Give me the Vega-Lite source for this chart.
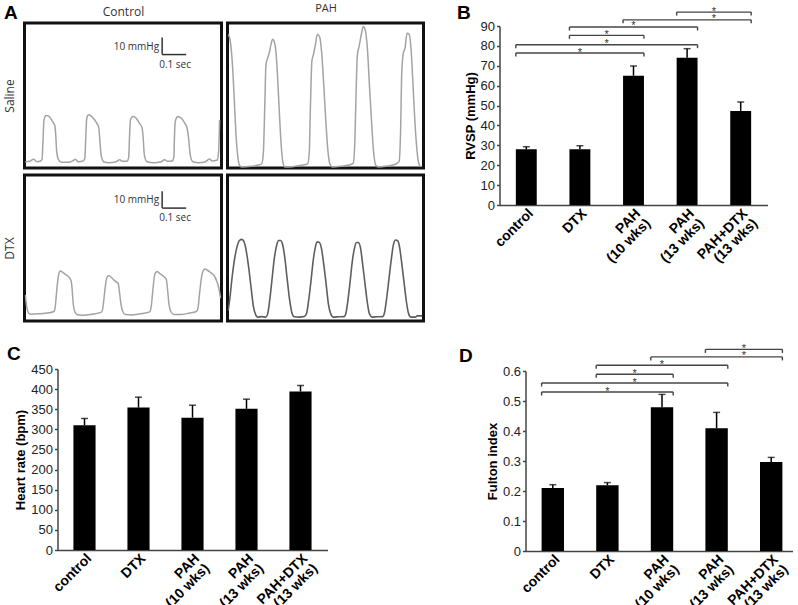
{
 "$schema": "https://vega.github.io/schema/vega-lite/v6.json",
 "background": "white",
 "padding": {"left": 1.5, "top": 1, "right": 2, "bottom": 0},
 "config": {
  "view": {"stroke": null},
  "axis": {"grid": false, "domainColor": "#444", "domainWidth": 1.5, "tickColor": "#444", "tickWidth": 1.5, "tickSize": 3, "labelColor": "#222", "labelFont": "Liberation Sans", "labelFontSize": 13, "labelPadding": 2, "titleFont": "Liberation Sans", "titleFontSize": 13, "titleFontWeight": "bold", "titleColor": "#000", "labelOverlap": false},
  "axisY": {"labelOverlap": false},
  "title": {"font": "Liberation Sans", "fontSize": 19, "fontWeight": "bold", "color": "#000", "anchor": "start", "frame": "group"}
 },
 "datasets": {
  "saline_control": [{"t":0.003,"p":3.7},{"t":0.02,"p":3.9},{"t":0.038,"p":5.1},{"t":0.052,"p":3.7},{"t":0.067,"p":4.1},{"t":0.073,"p":5.1},{"t":0.077,"p":15.5},{"t":0.081,"p":28.2},{"t":0.09,"p":30.8},{"t":0.101,"p":30.4},{"t":0.115,"p":27.6},{"t":0.126,"p":24.9},{"t":0.13,"p":19.4},{"t":0.134,"p":9.6},{"t":0.142,"p":4.7},{"t":0.153,"p":3.3},{"t":0.184,"p":3.3},{"t":0.202,"p":4.3},{"t":0.212,"p":5.1},{"t":0.223,"p":3.7},{"t":0.242,"p":3.9},{"t":0.251,"p":5.7},{"t":0.255,"p":17.5},{"t":0.259,"p":29.2},{"t":0.267,"p":31.2},{"t":0.281,"p":30.0},{"t":0.298,"p":26.9},{"t":0.309,"p":23.7},{"t":0.313,"p":17.5},{"t":0.319,"p":7.6},{"t":0.33,"p":3.7},{"t":0.351,"p":3.1},{"t":0.378,"p":3.5},{"t":0.397,"p":4.9},{"t":0.406,"p":3.9},{"t":0.427,"p":3.9},{"t":0.434,"p":6.7},{"t":0.437,"p":17.5},{"t":0.441,"p":28.2},{"t":0.451,"p":30.2},{"t":0.465,"p":29.2},{"t":0.478,"p":26.3},{"t":0.49,"p":23.3},{"t":0.494,"p":17.5},{"t":0.499,"p":7.6},{"t":0.51,"p":3.7},{"t":0.538,"p":3.1},{"t":0.566,"p":3.5},{"t":0.584,"p":4.9},{"t":0.594,"p":3.9},{"t":0.615,"p":4.1},{"t":0.622,"p":6.7},{"t":0.624,"p":17.5},{"t":0.628,"p":27.6},{"t":0.638,"p":30.2},{"t":0.653,"p":29.2},{"t":0.667,"p":26.3},{"t":0.677,"p":23.3},{"t":0.683,"p":17.5},{"t":0.69,"p":7.6},{"t":0.701,"p":3.7},{"t":0.726,"p":3.1},{"t":0.753,"p":3.7},{"t":0.77,"p":5.3},{"t":0.781,"p":4.1},{"t":0.802,"p":4.7},{"t":0.808,"p":9.6},{"t":0.812,"p":28.2}],
  "saline_pah": [{"t":0.004,"p":78.4},{"t":0.0125,"p":73.5},{"t":0.022,"p":57.8},{"t":0.029,"p":38.2},{"t":0.036,"p":18.6},{"t":0.043,"p":6.9},{"t":0.05,"p":1.6},{"t":0.06,"p":0.6},{"t":0.099,"p":1.0},{"t":0.126,"p":1.6},{"t":0.143,"p":2.5},{"t":0.15,"p":8.8},{"t":0.156,"p":36.3},{"t":0.161,"p":60.8},{"t":0.167,"p":64.1},{"t":0.175,"p":67.6},{"t":0.182,"p":72.5},{"t":0.189,"p":75.5},{"t":0.196,"p":73.9},{"t":0.203,"p":67.6},{"t":0.21,"p":52.0},{"t":0.217,"p":32.4},{"t":0.224,"p":14.7},{"t":0.231,"p":3.9},{"t":0.24,"p":0.6},{"t":0.272,"p":0.8},{"t":0.31,"p":1.6},{"t":0.335,"p":2.4},{"t":0.342,"p":8.8},{"t":0.347,"p":36.3},{"t":0.353,"p":62.7},{"t":0.36,"p":66.7},{"t":0.368,"p":72.5},{"t":0.376,"p":78.4},{"t":0.385,"p":77.1},{"t":0.394,"p":67.6},{"t":0.403,"p":48.0},{"t":0.411,"p":28.4},{"t":0.419,"p":11.8},{"t":0.428,"p":2.5},{"t":0.439,"p":0.6},{"t":0.474,"p":1.0},{"t":0.508,"p":1.8},{"t":0.526,"p":2.7},{"t":0.532,"p":12.7},{"t":0.538,"p":44.1},{"t":0.543,"p":65.7},{"t":0.551,"p":71.6},{"t":0.56,"p":78.4},{"t":0.568,"p":82.9},{"t":0.576,"p":81.0},{"t":0.586,"p":68.6},{"t":0.594,"p":48.0},{"t":0.603,"p":26.5},{"t":0.611,"p":9.8},{"t":0.621,"p":1.4},{"t":0.633,"p":0.6},{"t":0.668,"p":1.2},{"t":0.703,"p":2.2},{"t":0.718,"p":3.9},{"t":0.724,"p":20.6},{"t":0.729,"p":55.9},{"t":0.735,"p":66.7},{"t":0.743,"p":70.6},{"t":0.751,"p":79.0},{"t":0.76,"p":78.4},{"t":0.768,"p":69.6},{"t":0.775,"p":52.0},{"t":0.782,"p":32.4},{"t":0.789,"p":16.7},{"t":0.797,"p":4.9},{"t":0.804,"p":1.4},{"t":0.81,"p":0.8}],
  "dtx_control": [{"t":0.0035,"p":15.4},{"t":0.009,"p":8.5},{"t":0.015,"p":5.2},{"t":0.024,"p":4.0},{"t":0.059,"p":4.2},{"t":0.101,"p":4.8},{"t":0.122,"p":5.6},{"t":0.128,"p":8.5},{"t":0.135,"p":19.3},{"t":0.142,"p":27.2},{"t":0.149,"p":29.5},{"t":0.159,"p":28.7},{"t":0.17,"p":27.5},{"t":0.184,"p":26.0},{"t":0.194,"p":23.6},{"t":0.198,"p":19.3},{"t":0.202,"p":11.5},{"t":0.209,"p":5.6},{"t":0.219,"p":3.8},{"t":0.24,"p":3.4},{"t":0.281,"p":4.0},{"t":0.32,"p":5.2},{"t":0.327,"p":8.5},{"t":0.334,"p":17.4},{"t":0.342,"p":25.2},{"t":0.351,"p":26.8},{"t":0.362,"p":25.6},{"t":0.376,"p":23.6},{"t":0.39,"p":22.1},{"t":0.395,"p":17.4},{"t":0.401,"p":10.5},{"t":0.409,"p":5.6},{"t":0.42,"p":3.8},{"t":0.448,"p":3.6},{"t":0.49,"p":4.4},{"t":0.521,"p":5.4},{"t":0.528,"p":9.1},{"t":0.535,"p":19.3},{"t":0.542,"p":27.2},{"t":0.552,"p":29.1},{"t":0.562,"p":28.1},{"t":0.576,"p":26.6},{"t":0.59,"p":24.6},{"t":0.595,"p":19.3},{"t":0.601,"p":10.5},{"t":0.609,"p":5.6},{"t":0.622,"p":3.8},{"t":0.649,"p":3.8},{"t":0.684,"p":4.6},{"t":0.715,"p":5.6},{"t":0.722,"p":7.5},{"t":0.728,"p":15.4},{"t":0.74,"p":28.1},{"t":0.751,"p":30.7},{"t":0.762,"p":29.9},{"t":0.775,"p":28.5},{"t":0.789,"p":26.8},{"t":0.8,"p":23.6},{"t":0.809,"p":19.3},{"t":0.816,"p":13.4}],
  "dtx_pah": [{"t":0.003,"p":6.2},{"t":0.01,"p":13.4},{"t":0.018,"p":24.2},{"t":0.029,"p":36.0},{"t":0.04,"p":43.8},{"t":0.05,"p":47.4},{"t":0.06,"p":48.1},{"t":0.069,"p":46.8},{"t":0.079,"p":40.9},{"t":0.089,"p":31.1},{"t":0.099,"p":19.3},{"t":0.108,"p":8.9},{"t":0.118,"p":3.6},{"t":0.126,"p":2.3},{"t":0.143,"p":2.6},{"t":0.16,"p":2.3},{"t":0.168,"p":4.2},{"t":0.176,"p":11.5},{"t":0.186,"p":24.2},{"t":0.196,"p":37.0},{"t":0.206,"p":44.8},{"t":0.214,"p":47.4},{"t":0.222,"p":47.4},{"t":0.231,"p":44.8},{"t":0.24,"p":37.0},{"t":0.25,"p":24.2},{"t":0.26,"p":12.4},{"t":0.269,"p":5.0},{"t":0.279,"p":2.5},{"t":0.3,"p":2.3},{"t":0.321,"p":2.6},{"t":0.331,"p":4.6},{"t":0.339,"p":11.5},{"t":0.349,"p":23.2},{"t":0.358,"p":35.0},{"t":0.368,"p":43.8},{"t":0.376,"p":46.6},{"t":0.385,"p":46.2},{"t":0.393,"p":42.8},{"t":0.403,"p":33.0},{"t":0.413,"p":21.3},{"t":0.422,"p":10.1},{"t":0.432,"p":4.2},{"t":0.443,"p":2.3},{"t":0.467,"p":2.5},{"t":0.488,"p":2.6},{"t":0.496,"p":5.0},{"t":0.504,"p":12.4},{"t":0.513,"p":23.2},{"t":0.522,"p":35.0},{"t":0.532,"p":43.4},{"t":0.54,"p":46.2},{"t":0.547,"p":46.2},{"t":0.556,"p":43.4},{"t":0.565,"p":34.0},{"t":0.575,"p":22.3},{"t":0.585,"p":10.9},{"t":0.594,"p":4.2},{"t":0.606,"p":2.3},{"t":0.626,"p":2.5},{"t":0.649,"p":2.6},{"t":0.657,"p":5.0},{"t":0.665,"p":12.4},{"t":0.675,"p":24.2},{"t":0.685,"p":36.0},{"t":0.694,"p":44.8},{"t":0.703,"p":47.7},{"t":0.711,"p":47.4},{"t":0.719,"p":44.2},{"t":0.729,"p":34.0},{"t":0.739,"p":22.3},{"t":0.749,"p":10.9},{"t":0.758,"p":4.2},{"t":0.768,"p":2.3},{"t":0.786,"p":2.3},{"t":0.793,"p":3.0},{"t":0.814,"p":3.0}],
  "scalebar": [{"t0":0.573,"t1":0.673,"p0":66.5,"p1":76.5,"vlabel":"10 mmHg","hlabel":"0.1 sec"}],
  "rvsp": [{"group":"control","mean":28,"hi":29.3},{"group":"DTX","mean":28,"hi":29.8},{"group":"PAH (10 wks)","mean":65,"hi":69.9},{"group":"PAH (13 wks)","mean":74,"hi":78.6},{"group":"PAH+DTX (13 wks)","mean":47.3,"hi":51.8}],
  "hr": [{"group":"control","mean":310,"hi":327},{"group":"DTX","mean":354,"hi":380},{"group":"PAH (10 wks)","mean":329,"hi":360},{"group":"PAH (13 wks)","mean":351,"hi":375},{"group":"PAH+DTX (13 wks)","mean":394,"hi":409}],
  "fulton": [{"group":"control","mean":0.21,"hi":0.221},{"group":"DTX","mean":0.219,"hi":0.228},{"group":"PAH (10 wks)","mean":0.479,"hi":0.522},{"group":"PAH (13 wks)","mean":0.409,"hi":0.462},{"group":"PAH+DTX (13 wks)","mean":0.297,"hi":0.312}],
  "sig_rvsp": [{"from":"PAH (13 wks)","to":"PAH+DTX (13 wks)","level":97,"star":"PAH (13 wks)","pos":"gap","sig":"*"},{"from":"PAH (10 wks)","to":"PAH+DTX (13 wks)","level":93.1,"star":"PAH (13 wks)","pos":"gap","sig":"*"},{"from":"DTX","to":"PAH (13 wks)","level":89.5,"star":"PAH (10 wks)","pos":"center","sig":"*"},{"from":"DTX","to":"PAH (10 wks)","level":85.3,"star":"DTX","pos":"gap","sig":"*"},{"from":"control","to":"PAH (13 wks)","level":80.6,"star":"DTX","pos":"gap","sig":"*"},{"from":"control","to":"PAH (10 wks)","level":76.4,"star":"DTX","pos":"center","sig":"*"}],
  "sig_fulton": [{"from":"PAH (13 wks)","to":"PAH+DTX (13 wks)","level":0.672,"star":"PAH (13 wks)","pos":"gap","sig":"*"},{"from":"PAH (10 wks)","to":"PAH+DTX (13 wks)","level":0.647,"star":"PAH (13 wks)","pos":"gap","sig":"*"},{"from":"DTX","to":"PAH (13 wks)","level":0.619,"star":"PAH (10 wks)","pos":"center","sig":"*"},{"from":"DTX","to":"PAH (10 wks)","level":0.589,"star":"DTX","pos":"gap","sig":"*"},{"from":"control","to":"PAH (13 wks)","level":0.56,"star":"DTX","pos":"gap","sig":"*"},{"from":"control","to":"PAH (10 wks)","level":0.53,"star":"DTX","pos":"center","sig":"*"}]
 },
 "columns": 3,
 "align": "each",
 "bounds": "flush",
 "spacing": {"row": 7, "column": 6},
 "concat": [
  {
   "width": 197, "height": 145,
   "view": {"stroke": "#111", "strokeWidth": 3},
   "title": {"text": "A", "dx": -20.5, "offset": -17.5},
   "layer": [
    {"data": {"name": "saline_control"},
     "mark": {"type": "line", "color": "#a3a3a3", "strokeWidth": 1.5, "interpolate": "monotone", "clip": true},
     "encoding": {
      "x": {"field": "t", "type": "quantitative", "scale": {"domain": [0, 0.82], "nice": false, "zero": false}, "axis": {"orient": "top", "title": "Control", "labels": false, "ticks": false, "domain": false, "titleFont": "Open Sans", "titleFontSize": 12, "titleFontWeight": "normal", "titleColor": "#333", "titlePadding": 5}},
      "y": {"field": "p", "type": "quantitative", "scale": {"domain": [0, 85], "nice": false, "zero": false}, "axis": {"title": "Saline", "labels": false, "ticks": false, "domain": false, "titleFont": "Open Sans", "titleFontSize": 12, "titleFontWeight": "normal", "titleColor": "#333", "titlePadding": 8}}
     }},
    {"data": {"name": "scalebar"}, "mark": {"type": "rule", "color": "#333", "strokeWidth": 1.5},
     "encoding": {"x": {"field": "t0", "type": "quantitative"}, "x2": {"field": "t1"}, "y": {"field": "p0", "type": "quantitative"}}},
    {"data": {"name": "scalebar"}, "mark": {"type": "rule", "color": "#333", "strokeWidth": 1.5},
     "encoding": {"x": {"field": "t0", "type": "quantitative"}, "y": {"field": "p0", "type": "quantitative"}, "y2": {"field": "p1"}}},
    {"data": {"name": "scalebar"}, "mark": {"type": "text", "align": "right", "baseline": "alphabetic", "dx": -3, "dy": -5, "font": "Open Sans", "fontSize": 10, "color": "#333"},
     "encoding": {"x": {"field": "t0", "type": "quantitative"}, "y": {"field": "p0", "type": "quantitative"}, "text": {"field": "vlabel"}}},
    {"data": {"name": "scalebar"}, "mark": {"type": "text", "align": "left", "baseline": "alphabetic", "dx": -3, "dy": 13, "font": "Open Sans", "fontSize": 10, "color": "#333"},
     "encoding": {"x": {"field": "t0", "type": "quantitative"}, "y": {"field": "p0", "type": "quantitative"}, "text": {"field": "hlabel"}}}
   ]
  },
  {
   "width": 196, "height": 145,
   "view": {"stroke": "#111", "strokeWidth": 3},
   "data": {"name": "saline_pah"},
   "mark": {"type": "line", "color": "#a3a3a3", "strokeWidth": 1.5, "interpolate": "monotone", "clip": true},
   "encoding": {
    "x": {"field": "t", "type": "quantitative", "scale": {"domain": [0, 0.82], "nice": false, "zero": false}, "axis": {"orient": "top", "title": "PAH", "labels": false, "ticks": false, "domain": false, "titleFont": "Open Sans", "titleFontSize": 11, "titleFontWeight": "normal", "titleColor": "#333", "titlePadding": 9.5}},
    "y": {"field": "p", "type": "quantitative", "scale": {"domain": [0, 85], "nice": false, "zero": false}, "axis": null}
   }
  },
  {
   "width": 268, "height": 145,
   "title": {"text": "B", "dx": -42.5, "offset": -17},
   "layer": [
    {"data": {"name": "rvsp"}, "mark": {"type": "bar", "color": "#000"},
     "encoding": {
      "x": {"field": "group", "type": "nominal", "sort": null, "scale": {"domain": ["control", "DTX", "PAH (10 wks)", "PAH (13 wks)", "PAH+DTX (13 wks)"], "paddingInner": 0.61, "paddingOuter": 0.305}, "axis": {"title": null, "ticks": false, "offset": 37, "labelAngle": -45, "labelAlign": "right", "labelBaseline": "top", "labelPadding": 1, "labelFontWeight": "bold", "labelFontSize": 14, "labelColor": "#000", "labelLineHeight": 14, "labelExpr": "split(replace(datum.label, ' (', '|('), '|')"}},
      "y": {"field": "mean", "type": "quantitative", "scale": {"domain": [0, 90], "range": [182, 3], "nice": false}, "axis": {"values": [0, 10, 20, 30, 40, 50, 60, 70, 80, 90], "tickCount": 10, "labelOverlap": false, "title": "RVSP (mmHg)", "titlePadding": 3}}
     }},
    {"data": {"name": "rvsp"}, "mark": {"type": "rule", "color": "#000", "strokeWidth": 1.5},
     "encoding": {"x": {"field": "group", "type": "nominal"}, "y": {"field": "mean", "type": "quantitative", "axis": {"values": [0, 10, 20, 30, 40, 50, 60, 70, 80, 90], "tickCount": 10, "labelOverlap": false, "title": "RVSP (mmHg)", "titlePadding": 3}}, "y2": {"field": "hi"}}},
    {"data": {"name": "rvsp"}, "mark": {"type": "tick", "color": "#000", "size": 7, "thickness": 1.5},
     "encoding": {"x": {"field": "group", "type": "nominal"}, "y": {"field": "hi", "type": "quantitative", "axis": {"values": [0, 10, 20, 30, 40, 50, 60, 70, 80, 90], "tickCount": 10, "labelOverlap": false, "title": "RVSP (mmHg)", "titlePadding": 3}}}},
    {"data": {"name": "sig_rvsp"}, "mark": {"type": "rule", "color": "#444", "strokeWidth": 1.4},
     "encoding": {"x": {"field": "from", "type": "nominal", "bandPosition": 0}, "x2": {"field": "to", "bandPosition": 1}, "y": {"field": "level", "type": "quantitative", "axis": {"values": [0, 10, 20, 30, 40, 50, 60, 70, 80, 90], "tickCount": 10, "labelOverlap": false, "title": "RVSP (mmHg)", "titlePadding": 3}}}},
    {"data": {"name": "sig_rvsp"}, "mark": {"type": "rule", "color": "#444", "strokeWidth": 1.4, "y2Offset": 3.5},
     "encoding": {"x": {"field": "from", "type": "nominal", "bandPosition": 0}, "y": {"field": "level", "type": "quantitative", "axis": {"values": [0, 10, 20, 30, 40, 50, 60, 70, 80, 90], "tickCount": 10, "labelOverlap": false, "title": "RVSP (mmHg)", "titlePadding": 3}}, "y2": {"field": "level"}}},
    {"data": {"name": "sig_rvsp"}, "mark": {"type": "rule", "color": "#444", "strokeWidth": 1.4, "y2Offset": 3.5},
     "encoding": {"x": {"field": "to", "type": "nominal", "bandPosition": 1}, "y": {"field": "level", "type": "quantitative", "axis": {"values": [0, 10, 20, 30, 40, 50, 60, 70, 80, 90], "tickCount": 10, "labelOverlap": false, "title": "RVSP (mmHg)", "titlePadding": 3}}, "y2": {"field": "level"}}},
    {"data": {"name": "sig_rvsp"}, "transform": [{"filter": "datum.pos === 'center'"}], "mark": {"type": "text", "font": "Liberation Sans", "fontSize": 11, "color": "#333", "baseline": "alphabetic", "dy": 2.5},
     "encoding": {"x": {"field": "star", "type": "nominal"}, "y": {"field": "level", "type": "quantitative", "axis": {"values": [0, 10, 20, 30, 40, 50, 60, 70, 80, 90], "tickCount": 10, "labelOverlap": false, "title": "RVSP (mmHg)", "titlePadding": 3}}, "text": {"field": "sig"}}},
    {"data": {"name": "sig_rvsp"}, "transform": [{"filter": "datum.pos === 'gap'"}], "mark": {"type": "text", "font": "Liberation Sans", "fontSize": 11, "color": "#333", "baseline": "alphabetic", "dy": 2.5},
     "encoding": {"x": {"field": "star", "type": "nominal", "bandPosition": 1.782}, "y": {"field": "level", "type": "quantitative", "axis": {"values": [0, 10, 20, 30, 40, 50, 60, 70, 80, 90], "tickCount": 10, "labelOverlap": false, "title": "RVSP (mmHg)", "titlePadding": 3}}, "text": {"field": "sig"}}}
   ]
  },
  {
   "width": 197, "height": 146,
   "view": {"stroke": "#111", "strokeWidth": 3},
   "layer": [
    {"data": {"name": "dtx_control"},
     "mark": {"type": "line", "color": "#a3a3a3", "strokeWidth": 1.5, "interpolate": "monotone", "clip": true},
     "encoding": {
      "x": {"field": "t", "type": "quantitative", "scale": {"domain": [0, 0.82], "nice": false, "zero": false}, "axis": null},
      "y": {"field": "p", "type": "quantitative", "scale": {"domain": [0, 86], "nice": false, "zero": false}, "axis": {"title": "DTX", "labels": false, "ticks": false, "domain": false, "titleFont": "Open Sans", "titleFontSize": 12, "titleFontWeight": "normal", "titleColor": "#333", "titlePadding": 8}}
     }},
    {"data": {"name": "scalebar"}, "mark": {"type": "rule", "color": "#333", "strokeWidth": 1.5},
     "encoding": {"x": {"field": "t0", "type": "quantitative", "axis": null}, "x2": {"field": "t1"}, "y": {"field": "p0", "type": "quantitative"}}},
    {"data": {"name": "scalebar"}, "mark": {"type": "rule", "color": "#333", "strokeWidth": 1.5},
     "encoding": {"x": {"field": "t0", "type": "quantitative", "axis": null}, "y": {"field": "p0", "type": "quantitative"}, "y2": {"field": "p1"}}},
    {"data": {"name": "scalebar"}, "mark": {"type": "text", "align": "right", "baseline": "alphabetic", "dx": -3, "dy": -5, "font": "Open Sans", "fontSize": 10, "color": "#333"},
     "encoding": {"x": {"field": "t0", "type": "quantitative", "axis": null}, "y": {"field": "p0", "type": "quantitative"}, "text": {"field": "vlabel"}}},
    {"data": {"name": "scalebar"}, "mark": {"type": "text", "align": "left", "baseline": "alphabetic", "dx": -3, "dy": 13, "font": "Open Sans", "fontSize": 10, "color": "#333"},
     "encoding": {"x": {"field": "t0", "type": "quantitative", "axis": null}, "y": {"field": "p0", "type": "quantitative"}, "text": {"field": "hlabel"}}}
   ]
  },
  {
   "width": 196, "height": 146,
   "view": {"stroke": "#111", "strokeWidth": 3},
   "data": {"name": "dtx_pah"},
   "mark": {"type": "line", "color": "#5e5e5e", "strokeWidth": 1.6, "interpolate": "monotone", "clip": true},
   "encoding": {
    "x": {"field": "t", "type": "quantitative", "scale": {"domain": [0, 0.82], "nice": false, "zero": false}, "axis": null},
    "y": {"field": "p", "type": "quantitative", "scale": {"domain": [0, 86], "nice": false, "zero": false}, "axis": null}
   }
  },
  {"width": 10, "height": 186.5, "data": {"values": []}, "mark": "point", "encoding": {}},
  {
   "width": 197, "height": 181,
   "title": {"text": "C", "dx": -17.5, "offset": -1},
   "layer": [
    {"data": {"name": "hr"}, "mark": {"type": "bar", "color": "#000"},
     "encoding": {
      "x": {"field": "group", "type": "nominal", "sort": null, "scale": {"domain": ["control", "DTX", "PAH (10 wks)", "PAH (13 wks)", "PAH+DTX (13 wks)"], "range": [33, 303], "paddingInner": 0.59, "paddingOuter": 0.295}, "axis": {"title": null, "ticks": false, "labelAngle": -45, "labelAlign": "right", "labelBaseline": "top", "labelPadding": 1, "labelFontWeight": "bold", "labelFontSize": 14, "labelColor": "#000", "labelLineHeight": 14, "labelExpr": "split(replace(datum.label, ' (', '|('), '|')"}},
      "y": {"field": "mean", "type": "quantitative", "scale": {"domain": [0, 450], "nice": false}, "axis": {"offset": -33, "values": [0, 50, 100, 150, 200, 250, 300, 350, 400, 450], "tickCount": 10, "labelOverlap": false, "title": "Heart rate (bpm)", "titlePadding": 3}}
     }},
    {"data": {"name": "hr"}, "mark": {"type": "rule", "color": "#000", "strokeWidth": 1.5},
     "encoding": {"x": {"field": "group", "type": "nominal"}, "y": {"field": "mean", "type": "quantitative", "axis": {"offset": -33, "values": [0, 50, 100, 150, 200, 250, 300, 350, 400, 450], "tickCount": 10, "labelOverlap": false, "title": "Heart rate (bpm)", "titlePadding": 3}}, "y2": {"field": "hi"}}},
    {"data": {"name": "hr"}, "mark": {"type": "tick", "color": "#000", "size": 7, "thickness": 1.5},
     "encoding": {"x": {"field": "group", "type": "nominal"}, "y": {"field": "hi", "type": "quantitative", "axis": {"offset": -33, "values": [0, 50, 100, 150, 200, 250, 300, 350, 400, 450], "tickCount": 10, "labelOverlap": false, "title": "Heart rate (bpm)", "titlePadding": 3}}}}
   ]
  },
  {"width": 266, "height": 1, "data": {"values": []}, "mark": "point", "encoding": {}},
  {
   "width": 268, "height": 182,
   "title": {"text": "D", "dx": -40.5, "offset": -23},
   "layer": [
    {"data": {"name": "fulton"}, "mark": {"type": "bar", "color": "#000"},
     "encoding": {
      "x": {"field": "group", "type": "nominal", "sort": null, "scale": {"domain": ["control", "DTX", "PAH (10 wks)", "PAH (13 wks)", "PAH+DTX (13 wks)"], "range": [26, 299], "paddingInner": 0.59, "paddingOuter": 0.295}, "axis": {"title": null, "ticks": false, "labelAngle": -45, "labelAlign": "right", "labelBaseline": "top", "labelPadding": 1, "labelFontWeight": "bold", "labelFontSize": 14, "labelColor": "#000", "labelLineHeight": 14, "labelExpr": "split(replace(datum.label, ' (', '|('), '|')"}},
      "y": {"field": "mean", "type": "quantitative", "scale": {"domain": [0, 0.6], "range": [182, 2], "nice": false}, "axis": {"offset": -26, "values": [0, 0.1, 0.2, 0.3, 0.4, 0.5, 0.6], "tickCount": 7, "labelOverlap": false, "labelExpr": "datum.value == 0 ? '0' : format(datum.value, '.1f')", "title": "Fulton index", "titlePadding": 3}}
     }},
    {"data": {"name": "fulton"}, "mark": {"type": "rule", "color": "#000", "strokeWidth": 1.5},
     "encoding": {"x": {"field": "group", "type": "nominal"}, "y": {"field": "mean", "type": "quantitative", "axis": {"offset": -26, "values": [0, 0.1, 0.2, 0.3, 0.4, 0.5, 0.6], "tickCount": 7, "labelOverlap": false, "labelExpr": "datum.value == 0 ? '0' : format(datum.value, '.1f')", "title": "Fulton index", "titlePadding": 3}}, "y2": {"field": "hi"}}},
    {"data": {"name": "fulton"}, "mark": {"type": "tick", "color": "#000", "size": 7, "thickness": 1.5},
     "encoding": {"x": {"field": "group", "type": "nominal"}, "y": {"field": "hi", "type": "quantitative", "axis": {"offset": -26, "values": [0, 0.1, 0.2, 0.3, 0.4, 0.5, 0.6], "tickCount": 7, "labelOverlap": false, "labelExpr": "datum.value == 0 ? '0' : format(datum.value, '.1f')", "title": "Fulton index", "titlePadding": 3}}}},
    {"data": {"name": "sig_fulton"}, "mark": {"type": "rule", "color": "#444", "strokeWidth": 1.4},
     "encoding": {"x": {"field": "from", "type": "nominal", "bandPosition": 0}, "x2": {"field": "to", "bandPosition": 1}, "y": {"field": "level", "type": "quantitative", "axis": {"offset": -26, "values": [0, 0.1, 0.2, 0.3, 0.4, 0.5, 0.6], "tickCount": 7, "labelOverlap": false, "labelExpr": "datum.value == 0 ? '0' : format(datum.value, '.1f')", "title": "Fulton index", "titlePadding": 3}}}},
    {"data": {"name": "sig_fulton"}, "mark": {"type": "rule", "color": "#444", "strokeWidth": 1.4, "y2Offset": 3.5},
     "encoding": {"x": {"field": "from", "type": "nominal", "bandPosition": 0}, "y": {"field": "level", "type": "quantitative", "axis": {"offset": -26, "values": [0, 0.1, 0.2, 0.3, 0.4, 0.5, 0.6], "tickCount": 7, "labelOverlap": false, "labelExpr": "datum.value == 0 ? '0' : format(datum.value, '.1f')", "title": "Fulton index", "titlePadding": 3}}, "y2": {"field": "level"}}},
    {"data": {"name": "sig_fulton"}, "mark": {"type": "rule", "color": "#444", "strokeWidth": 1.4, "y2Offset": 3.5},
     "encoding": {"x": {"field": "to", "type": "nominal", "bandPosition": 1}, "y": {"field": "level", "type": "quantitative", "axis": {"offset": -26, "values": [0, 0.1, 0.2, 0.3, 0.4, 0.5, 0.6], "tickCount": 7, "labelOverlap": false, "labelExpr": "datum.value == 0 ? '0' : format(datum.value, '.1f')", "title": "Fulton index", "titlePadding": 3}}, "y2": {"field": "level"}}},
    {"data": {"name": "sig_fulton"}, "transform": [{"filter": "datum.pos === 'center'"}], "mark": {"type": "text", "font": "Liberation Sans", "fontSize": 11, "color": "#333", "baseline": "alphabetic", "dy": 2.5},
     "encoding": {"x": {"field": "star", "type": "nominal"}, "y": {"field": "level", "type": "quantitative", "axis": {"offset": -26, "values": [0, 0.1, 0.2, 0.3, 0.4, 0.5, 0.6], "tickCount": 7, "labelOverlap": false, "labelExpr": "datum.value == 0 ? '0' : format(datum.value, '.1f')", "title": "Fulton index", "titlePadding": 3}}, "text": {"field": "sig"}}},
    {"data": {"name": "sig_fulton"}, "transform": [{"filter": "datum.pos === 'gap'"}], "mark": {"type": "text", "font": "Liberation Sans", "fontSize": 11, "color": "#333", "baseline": "alphabetic", "dy": 2.5},
     "encoding": {"x": {"field": "star", "type": "nominal", "bandPosition": 1.72}, "y": {"field": "level", "type": "quantitative", "axis": {"offset": -26, "values": [0, 0.1, 0.2, 0.3, 0.4, 0.5, 0.6], "tickCount": 7, "labelOverlap": false, "labelExpr": "datum.value == 0 ? '0' : format(datum.value, '.1f')", "title": "Fulton index", "titlePadding": 3}}, "text": {"field": "sig"}}}
   ]
  }
 ]
}
